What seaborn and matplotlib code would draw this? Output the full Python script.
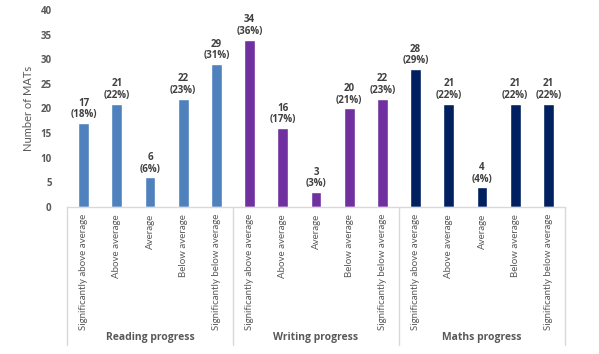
import matplotlib
matplotlib.use("Agg")
import matplotlib.pyplot as plt
import seaborn as sns
import pandas as pd
from matplotlib.lines import Line2D

groups = ["Reading progress", "Writing progress", "Maths progress"]
categories = ["Significantly above average", "Above average", "Average",
              "Below average", "Significantly below average"]
reading = [17, 21, 6, 22, 29]
reading_pct = [18, 22, 6, 23, 31]
writing = [34, 16, 3, 20, 22]
writing_pct = [36, 17, 3, 21, 23]
maths = [28, 21, 4, 21, 21]
maths_pct = [29, 22, 4, 22, 22]
colors = {"Reading progress": "#4F81BD", "Writing progress": "#7030A0", "Maths progress": "#002060"}

rows = []
idx = 0
for g, vals, pcts in zip(groups, [reading, writing, maths], [reading_pct, writing_pct, maths_pct]):
    for c, v, p in zip(categories, vals, pcts):
        rows.append({"pos": idx, "group": g, "category": c, "value": v, "pct": p})
        idx += 1
df = pd.DataFrame(rows)

sns.set_style("white")
plt.rcParams['font.family'] = ['Lato', 'DejaVu Sans']
BOLD = ['Open Sans', 'DejaVu Sans']

fig = plt.figure(figsize=(5.99, 3.54), dpi=100)
ax = fig.add_axes([67/599, 1 - 207/354, (565-67)/599, 197/354])

sns.barplot(data=df, x="pos", y="value", hue="group", palette=colors,
            dodge=False, width=0.33, ax=ax, legend=False, saturation=1)

ax.set_ylim(0, 40)
ax.set_yticks(range(0, 41, 5))
ax.set_xlim(-0.5, len(df) - 0.5)
for lbl in ax.get_yticklabels():
    lbl.set_fontweight("bold")
    lbl.set_family(BOLD)
ax.tick_params(axis="y", length=0, labelsize=7, labelcolor="#595959", pad=11)
ax.tick_params(axis="x", length=0, labelsize=7, labelcolor="#595959", pad=5)
ax.set_xticks(range(len(df)))
ax.set_xticklabels(df["category"], rotation=90, va="top")
ax.set_xlabel("")
ax.set_ylabel("Number of MATs", fontsize=8, color="#595959", labelpad=5)

for s in ["top", "right", "left"]:
    ax.spines[s].set_visible(False)
ax.spines["bottom"].set_color("#D9D9D9")
ax.spines["bottom"].set_linewidth(1)

for _, r in df.iterrows():
    ax.annotate(f"{r['value']}\n({r['pct']}%)", (r["pos"], r["value"]),
                xytext=(0, 2), textcoords="offset points", ha="center", va="bottom",
                fontsize=7, fontweight="bold", color="#404040", linespacing=1.05,
                family=BOLD)

trans = ax.get_xaxis_transform()
for b in [-0.5, 4.5, 9.5, 14.5]:
    ax.add_line(Line2D([b, b], [0, -0.70], transform=trans, color="#D9D9D9",
                       lw=1, clip_on=False))
for i, g in enumerate(groups):
    ax.text(i * 5 + 2, -0.66, g, transform=trans, ha="center", va="center",
            fontsize=7.5, fontweight="bold", color="#595959", family=BOLD)

fig.savefig("out.png", dpi=100)
